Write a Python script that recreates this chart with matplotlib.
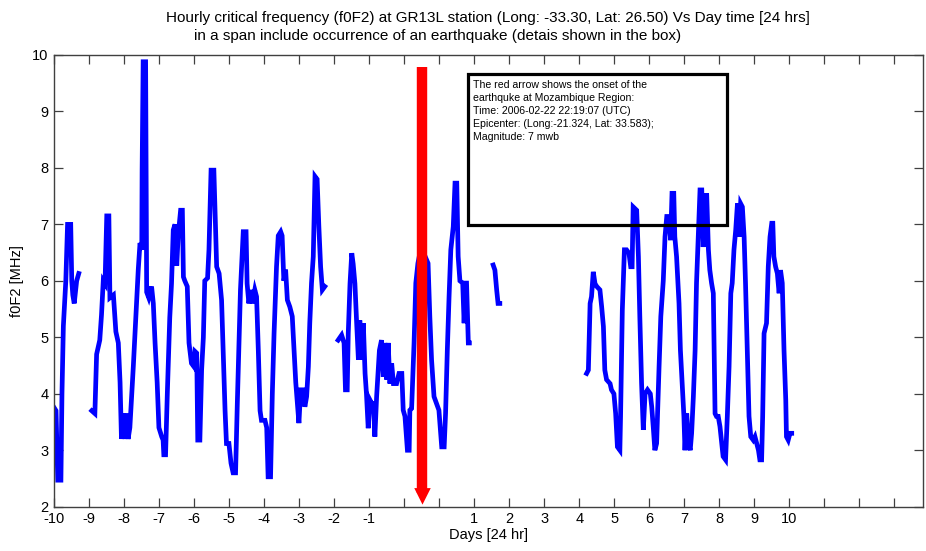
import numpy as np
import matplotlib
matplotlib.use('Agg')
import matplotlib.pyplot as plt
from matplotlib.patches import Rectangle

# ---------------------------------------------------------------
# Data (x = day index from start of record, y = f0F2 in MHz)
# gaps in the record are marked with NaN
# ---------------------------------------------------------------
days = [
    # segment 1
    0.00, 0.05, 0.10, 0.19, 0.22, 0.26, 0.33, 0.38, 0.47, 0.50, 0.53, 0.57, 0.64, 0.70,
    np.nan,
    # segment 2
    1.07, 1.16, 1.21, 1.30, 1.35, 1.40, 1.45, 1.50, 1.56, 1.59, 1.69, 1.76, 1.83, 1.88,
    1.92, 1.97, 2.02, 2.07, 2.11, 2.16, 2.26, 2.33, 2.40, 2.45, 2.50, 2.51, 2.54, 2.61,
    2.64, 2.70, 2.78, 2.83, 2.88, 2.94, 2.99, 3.07, 3.11, 3.13, 3.18, 3.23, 3.30, 3.35,
    3.40, 3.45, 3.50, 3.54, 3.61, 3.66, 3.69, 3.73, 3.80, 3.85, 3.92, 3.99, 4.02, 4.07,
    4.10, 4.16, 4.21, 4.26, 4.30, 4.38, 4.42, 4.48, 4.56, 4.64, 4.71, 4.78, 4.83, 4.88,
    4.92, 4.99, 5.05, 5.11, 5.18, 5.23, 5.28, 5.32, 5.40, 5.48, 5.51, 5.56, 5.61, 5.66,
    5.73, 5.78, 5.83, 5.88, 5.92, 6.02, 6.07, 6.11, 6.18, 6.23, 6.28, 6.35, 6.40, 6.47,
    6.51, 6.56, 6.61, 6.66, 6.73, 6.80, 6.85, 6.90, 6.94, 6.99, 7.04, 7.11, 7.16, 7.21,
    7.26, 7.30, 7.35, 7.40, 7.45, 7.51, 7.56, 7.61, 7.66, 7.73,
    np.nan,
    # segment 3
    8.11, 8.21, 8.28, 8.32, 8.37, 8.40, 8.45, 8.50, 8.54, 8.59, 8.64, 8.69, 8.73, 8.78,
    8.83, 8.88, 8.92, 8.97, 9.02, 9.07, 9.12, 9.16, 9.21, 9.29, 9.35, 9.40, 9.45, 9.50,
    9.54, 9.59, 9.64, 9.69, 9.78, 9.85, 9.93, 9.97, 10.02, 10.09, 10.14, 10.16, 10.21,
    10.28, 10.33, 10.39, 10.45, 10.55, 10.62, 10.68, 10.73, 10.78, 10.85, 10.92, 10.99,
    11.07, 11.14, 11.18, 11.23, 11.28, 11.33, 11.40, 11.45, 11.50, 11.54, 11.59, 11.67,
    11.71, 11.75, 11.78, 11.83, 11.86,
    np.nan,
    # segment 4
    12.54, 12.59, 12.64, 12.68, 12.73,
    np.nan,
    # segment 5
    15.21, 15.26, 15.31, 15.35, 15.40, 15.45, 15.50, 15.59, 15.64, 15.69, 15.73, 15.78,
    15.88, 15.92, 15.99, 16.04, 16.09, 16.16, 16.18, 16.23, 16.29, 16.35, 16.42, 16.47,
    16.51, 16.54, 16.64, 16.69, 16.73, 16.78, 16.83, 16.88, 16.95, 17.03, 17.07, 17.12,
    17.16, 17.21, 17.28, 17.33, 17.40, 17.45, 17.50, 17.56, 17.61, 17.65, 17.70, 17.73,
    17.78, 17.85, 17.89, 17.94, 17.99, 18.02, 18.07, 18.12, 18.17, 18.21, 18.26, 18.31,
    18.35, 18.40, 18.45, 18.50, 18.54, 18.59, 18.64, 18.69, 18.73, 18.78, 18.83, 18.88,
    18.92, 18.97, 19.02, 19.07, 19.11, 19.18, 19.23, 19.28, 19.33, 19.37, 19.42, 19.47,
    19.52, 19.57, 19.61, 19.66, 19.71, 19.75, 19.80, 19.85, 19.90, 19.97, 20.02, 20.07,
    20.12, 20.16, 20.21, 20.24, 20.28, 20.35, 20.40, 20.45, 20.50, 20.53, 20.56, 20.61,
    20.66, 20.71, 20.75, 20.80, 20.85, 20.90, 20.92, 20.97, 21.02, 21.07,
]

f0f2 = [
    # segment 1
    3.75, 3.70, 2.47, 2.47, 4.00, 5.20, 6.00, 7.00, 7.00, 6.00, 5.75, 5.60, 6.00, 6.13,
    np.nan,
    # segment 2
    3.70, 3.65, 4.70, 4.95, 5.40, 6.00, 5.95, 7.15, 7.15, 5.70, 5.75, 5.10, 4.90, 4.20,
    3.20, 3.65, 3.20, 3.65, 3.20, 3.40, 4.50, 5.35, 6.20, 6.67, 6.55, 7.96, 9.88, 9.88,
    5.80, 5.70, 5.90, 5.60, 4.90, 4.20, 3.40, 3.24, 3.18, 2.92, 2.92, 4.00, 5.35, 5.95,
    6.90, 7.00, 6.27, 6.80, 7.25, 7.25, 6.07, 6.00, 5.90, 4.90, 4.54, 4.48, 4.75, 4.72,
    3.18, 3.18, 4.42, 5.00, 6.00, 6.05, 6.55, 7.96, 7.96, 6.25, 6.13, 5.66, 4.66, 3.70,
    3.12, 3.12, 2.77, 2.60, 2.60, 3.83, 4.95, 5.84, 6.87, 6.87, 5.95, 5.60, 5.84, 5.60,
    5.84, 5.72, 4.77, 3.70, 3.53, 3.53, 3.40, 2.53, 2.53, 4.00, 5.07, 6.25, 6.80, 6.87,
    6.80, 6.00, 6.20, 5.66, 5.54, 5.37, 4.77, 4.20, 3.89, 3.48, 4.07, 4.07, 3.77, 3.95,
    4.48, 5.25, 5.96, 6.43, 7.85, 7.80, 6.96, 6.25, 5.84, 5.90,
    np.nan,
    # segment 3
    4.95, 5.04, 4.90, 4.07, 4.07, 5.07, 5.95, 6.49, 6.30, 5.95, 5.25, 4.60, 5.30, 4.60,
    5.25, 4.36, 4.00, 3.39, 3.89, 3.83, 3.83, 3.24, 3.95, 4.77, 4.95, 4.30, 4.90, 4.25,
    4.90, 4.18, 4.54, 4.18, 4.18, 4.36, 4.36, 3.71, 3.60, 3.00, 3.00, 3.71, 3.74,
    4.90, 5.96, 6.31, 6.50, 6.50, 6.40, 6.31, 5.37, 4.60, 3.95, 3.83, 3.71,
    3.06, 3.06, 3.65, 4.77, 5.72, 6.55, 6.96, 7.73, 7.73, 6.43, 6.00, 5.96,
    5.25, 5.96, 5.96, 4.90, 4.90,
    np.nan,
    # segment 4
    6.28, 6.19, 5.84, 5.60, 5.60,
    np.nan,
    # segment 5
    4.36, 4.42, 5.60, 5.72, 6.16, 5.95, 5.90, 5.84, 5.54, 5.19, 4.42, 4.25,
    4.18, 4.07, 4.00, 3.65, 3.06, 3.00, 3.60, 5.48, 6.55, 6.55, 6.49, 6.25,
    6.25, 7.31, 7.25, 6.43, 5.37, 4.19, 3.36, 4.00, 4.07, 4.00, 3.77, 3.36,
    3.00, 3.12, 4.48, 5.37, 6.00, 6.78, 7.14, 7.14, 6.72, 7.55, 7.55, 6.78,
    6.43, 5.60, 4.77, 4.18, 3.60, 3.00, 3.65, 3.12, 3.00, 3.30, 3.95, 4.77,
    5.96, 6.78, 7.61, 7.61, 6.60, 7.25, 7.55, 6.55, 6.19, 5.96, 5.78, 3.65,
    3.60, 3.60, 3.42, 3.12, 2.89, 2.83, 3.60, 4.48, 5.78, 5.96, 6.55, 6.90,
    7.37, 6.78, 7.37, 7.31, 6.78, 5.96, 4.77, 3.60, 3.24, 3.18, 3.24, 3.12,
    3.00, 2.83, 2.83, 3.60, 5.07, 5.25, 6.25, 6.78, 7.02, 7.02, 6.43, 6.25,
    6.13, 5.78, 6.19, 5.96, 4.77, 3.89, 3.24, 3.18, 3.30, 3.30,
]

tick_pos = list(range(25))
tick_labels = ['-10', '-9', '-8', '-7', '-6', '-5', '-4', '-3', '-2', '-1', '', '',
               '1', '2', '3', '4', '5', '6', '7', '8', '9', '10', '', '', '']

quake_day = 10.51      # onset of the earthquake
arrow_top = 9.79
box_x = (11.83, 19.21)
box_y = (6.99, 9.67)

box_text = ("The red arrow shows the onset of the\n"
            "earthquke at Mozambique Region:\n"
            "Time: 2006-02-22 22:19:07 (UTC)\n"
            "Epicenter: (Long:-21.324, Lat: 33.583);\n"
            "Magnitude: 7 mwb")

title1 = "Hourly critical frequency (f0F2) at GR13L station (Long: -33.30, Lat: 26.50) Vs Day time [24 hrs]"
title2 = "in a span include occurrence of an earthquake (detais shown in the box)"

# ---------------------------------------------------------------
# Plot
# ---------------------------------------------------------------
plt.rcParams['font.family'] = ['Liberation Sans', 'DejaVu Sans']

fig = plt.figure(figsize=(9.26, 5.51), dpi=100)
ax = fig.add_axes([0.0586, 0.0804, 0.9385, 0.8198])

ax.plot(days, f0f2, color='#0000ff', lw=3.4, solid_joinstyle='miter')

# red arrow marking the earthquake
ax.plot([quake_day, quake_day], [arrow_top, 2.25], color='#ff0000', lw=7.5,
        solid_capstyle='butt', zorder=4)
ax.plot([quake_day], [2.2], marker='v', ms=9, color='#ff0000', mec='#ff0000', mew=2,
        zorder=4)

# info box
ax.add_patch(Rectangle((box_x[0], box_y[0]), box_x[1] - box_x[0], box_y[1] - box_y[0],
                       fill=False, ec='black', lw=2.3, zorder=5))
ax.text(box_x[0] + 0.13, box_y[1] - 0.12, box_text, fontsize=7.6, va='top', ha='left',
        linespacing=1.36, zorder=6)

ax.set_xlim(0, 24.83)
ax.set_ylim(2, 10)
ax.set_xticks(tick_pos)
ax.set_xticklabels(tick_labels)
ax.set_yticks(range(2, 11))
ax.tick_params(direction='in', length=6.5, width=0.9, color='#404040', labelsize=10.5,
               top=True, right=True, pad=4)
ax.tick_params(axis='x', pad=4)
for s in ax.spines.values():
    s.set_color('#404040')
    s.set_linewidth(1.0)

ax.set_xlabel('Days [24 hr]', fontsize=10.5, labelpad=1)
ax.set_ylabel('f0F2 [MHz]', fontsize=10.5, labelpad=6)

fig.text(0.527, 0.967, title1, ha='center', va='center', fontsize=11)
fig.text(0.472, 0.935, title2, ha='center', va='center', fontsize=11)

fig.savefig('out.png', dpi=100)
